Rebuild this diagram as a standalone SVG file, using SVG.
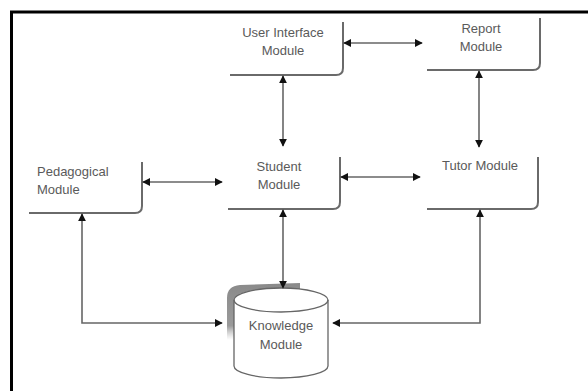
<svg xmlns="http://www.w3.org/2000/svg" width="588" height="391" viewBox="0 0 588 391">
<defs>
<marker id="ah" viewBox="0 0 10 10" refX="9" refY="5" markerWidth="5" markerHeight="5" orient="auto-start-reverse" markerUnits="strokeWidth">
<path d="M0,0 L10,5 L0,10 z" fill="#111"/>
</marker>
<linearGradient id="shfade" x1="0" y1="0" x2="0" y2="1">
<stop offset="0" stop-color="#8a8a8a"/>
<stop offset="0.75" stop-color="#9a9a9a"/>
<stop offset="1" stop-color="#bbb" stop-opacity="0"/>
</linearGradient>
</defs>
<style>
.box{fill:#fff;stroke:none}
.edge{fill:none;stroke:#6a6a6a;stroke-width:2}
.lbl{font-family:"Liberation Sans",Arial,sans-serif;font-size:13px;fill:#5a5a5a;text-anchor:middle}
.conn{fill:none;stroke:#666;stroke-width:1.6;marker-end:url(#ah)}
.both{marker-start:url(#ah)}
</style>
<rect width="588" height="391" fill="#fff"/>
<path d="M11.5,391 L11.5,12 L588,12" fill="none" stroke="#000" stroke-width="3"/>

<g id="ui">
<rect class="box" x="230" y="20" width="113" height="55"/>
<path class="edge" d="M343,22 L343,68 Q343,75 336,75 L230,75"/>
<text class="lbl" x="283" y="37">User Interface</text>
<text class="lbl" x="283" y="55">Module</text>
</g>
<g id="report">
<rect class="box" x="427" y="17" width="113" height="53"/>
<path class="edge" d="M540,18 L540,63 Q540,70 533,70 L427,70"/>
<text class="lbl" x="481" y="33">Report</text>
<text class="lbl" x="481" y="51">Module</text>
</g>
<g id="pedagogical">
<rect class="box" x="29" y="160" width="113" height="53"/>
<path class="edge" d="M142,162 L142,206 Q142,213 135,213 L29,213"/>
<text class="lbl" x="37" y="176" style="text-anchor:start">Pedagogical</text>
<text class="lbl" x="37" y="194" style="text-anchor:start">Module</text>
</g>
<g id="student">
<rect class="box" x="228" y="156" width="112" height="53"/>
<path class="edge" d="M340,157 L340,202 Q340,209 333,209 L228,209"/>
<text class="lbl" x="279" y="171">Student</text>
<text class="lbl" x="279" y="189">Module</text>
</g>
<g id="tutor">
<rect class="box" x="427" y="156" width="111" height="53"/>
<path class="edge" d="M538,157 L538,202 Q538,209 531,209 L427,209"/>
<text class="lbl" x="480" y="170">Tutor Module</text>
</g>
<g id="knowledge">
<path d="M227,340 L227,298 Q227,286 240,285 L300,283 L300,295 L234,300 L234,340 z" fill="url(#shfade)"/>
<path d="M234,300 L234,366 A47,12 0 0 0 328,366 L328,300 A47,12 0 0 0 234,300 z" fill="#fff" stroke="#666" stroke-width="1.3"/>
<path d="M234,300 A47,12 0 0 0 328,300" fill="none" stroke="#666" stroke-width="1.3"/>
<text class="lbl" x="281" y="330">Knowledge</text>
<text class="lbl" x="281" y="349">Module</text>
</g>
<g id="connectors">
<path class="conn both" d="M344,43 L422,43"/>
<path class="conn both" d="M283,76 L283,146"/>
<path class="conn both" d="M479,71 L479,147"/>
<path class="conn both" d="M143,182 L222,182"/>
<path class="conn both" d="M341,177 L420,177"/>
<path class="conn both" d="M283,210 L283,288"/>
<path class="conn both" d="M82,214 L82,323 L222,323"/>
<path class="conn both" d="M480,210 L480,323 L333,323"/>
</g>
</svg>
